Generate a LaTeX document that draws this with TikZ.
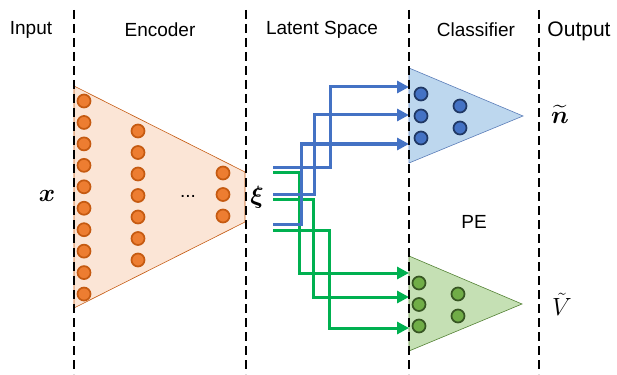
\documentclass[tikz,border=0pt]{standalone}
\usepackage{amsmath, amssymb, bm}
\usepackage{fontspec}
\setmainfont{Liberation Sans}
\usepackage{tikz}
\usetikzlibrary{arrows.meta, positioning, calc}
\definecolor{encfill}{RGB}{251, 229, 214}
\definecolor{encdraw}{RGB}{197, 90, 17}
\definecolor{encdot}{RGB}{237, 125, 49}
\definecolor{clsfill}{RGB}{189, 215, 238}
\definecolor{clsdraw}{RGB}{91, 125, 184}
\definecolor{clsdot}{RGB}{68, 114, 196}
\definecolor{clsdotdraw}{RGB}{32, 56, 100}
\definecolor{pefill}{RGB}{197, 224, 180}
\definecolor{pedraw}{RGB}{84, 130, 53}
\definecolor{pedot}{RGB}{112, 173, 71}
\definecolor{pedotdraw}{RGB}{55, 86, 35}
\definecolor{linkblue}{RGB}{68, 114, 196}
\definecolor{linkgreen}{RGB}{0, 176, 80}
\tikzset{
  header/.style={font=\fontsize{19}{22}\selectfont, inner sep=0pt},
  mathlabel/.style={font=\fontsize{24}{26}\selectfont, inner sep=0pt},
  encdotnode/.style={circle, draw=encdraw, fill=encdot, line width=1.7pt, minimum size=13pt, inner sep=0pt},
  clsdotnode/.style={circle, draw=clsdotdraw, fill=clsdot, line width=1.7pt, minimum size=13pt, inner sep=0pt},
  pedotnode/.style={circle, draw=pedotdraw, fill=pedot, line width=1.7pt, minimum size=13pt, inner sep=0pt},
  divider/.style={draw=black, line width=2pt, dash pattern=on 9pt off 5pt},
  bluelink/.style={draw=linkblue, line width=3pt, -{Triangle[length=12pt, width=12pt]}},
  greenlink/.style={draw=linkgreen, line width=3pt, -{Triangle[length=12pt, width=12pt]}}
}

\begin{document}
\begin{tikzpicture}[x=1pt, y=-1pt]
    \useasboundingbox (0, 0) rectangle (617, 374);

    % Encoder block
    \fill[encfill, draw=encdraw, line width=0.6pt] (74, 86) -- (245, 172) -- (245, 222) -- (74, 308) -- cycle;
    \foreach \i in {0,...,9}
        \node[encdotnode] (in\i) at (84, 101+21.45*\i) {};
    \foreach \i in {0,...,6}
        \node[encdotnode] (hid\i) at (138, 131+21.5*\i) {};
    \foreach \i in {0,...,2}
        \node[encdotnode] (lat\i) at (223, 173+21.5*\i) {};
    \node[font=\fontsize{19}{22}\selectfont] (dots) at (188, 196) {...};

    % Classifier and PE blocks
    \fill[clsfill, draw=clsdraw, line width=0.6pt] (409, 68) -- (523, 116) -- (409, 163) -- cycle;
    \fill[pefill, draw=pedraw, line width=0.6pt] (409, 256) -- (522, 304) -- (409, 351) -- cycle;
    \foreach \i in {0,...,2}
        \node[clsdotnode] (cA\i) at (421, 94+22*\i) {};
    \foreach \i in {0,...,1}
        \node[clsdotnode] (cB\i) at (460, 106+22*\i) {};
    \foreach \i in {0,...,2}
        \node[pedotnode] (pA\i) at (419, 283+21.5*\i) {};
    \foreach \i in {0,...,1}
        \node[pedotnode] (pB\i) at (458, 294+22*\i) {};
    \node[header] (pe) at (474, 222) {PE};

    % Latent links
    \coordinate (bs1) at (273, 167);
    \coordinate (bs2) at (273, 194);
    \coordinate (bs3) at (273, 224);
    \coordinate (gs1) at (273, 172);
    \coordinate (gs2) at (273, 199);
    \coordinate (gs3) at (273, 230);
    \coordinate (bt1) at (409, 87);
    \coordinate (bt2) at (409, 115);
    \coordinate (bt3) at (409, 144);
    \coordinate (gt1) at (409, 273);
    \coordinate (gt2) at (409, 297);
    \coordinate (gt3) at (409, 328);
    \draw[greenlink] (gs1) -| (299, 273) -- (gt1);
    \draw[greenlink] (gs2) -| (313, 297) -- (gt2);
    \draw[greenlink] (gs3) -| (329, 328) -- (gt3);
    \draw[bluelink] (bs1) -| (330, 87) -- (bt1);
    \draw[bluelink] (bs2) -| (314, 115) -- (bt2);
    \draw[bluelink] (bs3) -| (301, 144) -- (bt3);

    % Dividers
    \foreach \xd in {74, 246, 409, 539}
        \draw[divider] (\xd, 10) -- (\xd, 374);

    % Headers
    \node[header] (hin) at (31, 30) {Input};
    \node[header] (henc) at (160, 30) {Encoder};
    \node[header] (hlat) at (322, 30) {Latent Space};
    \node[header] (hcls) at (476, 30) {Classifier};
    \node[header, font=\fontsize{21}{24}\selectfont] (hout) at (579, 31) {Output};

    % Variables
    \node[mathlabel] (xin) at (47, 196) {$\boldsymbol{x}$};
    \node[mathlabel] (xi) at (257, 197) {$\boldsymbol{\xi}$};
    \node[mathlabel] (nout) at (560, 114) {$\widetilde{\boldsymbol{n}}$};
    \node[mathlabel] (vout) at (562, 304) {$\tilde{V}$};
\end{tikzpicture}
\end{document}
